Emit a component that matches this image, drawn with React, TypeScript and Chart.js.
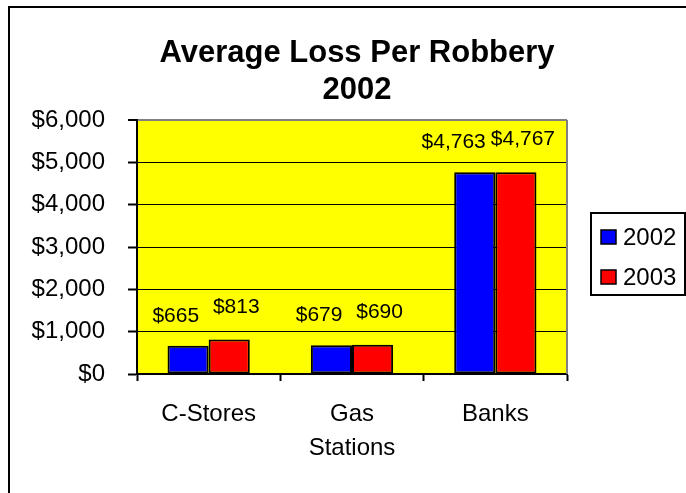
import React, { useEffect, useRef } from "react";
import { Chart, registerables } from "chart.js";

Chart.register(...registerables);

const categories: (string | string[])[] = ["C-Stores", ["Gas", "Stations"], "Banks"];
const seriesNames = ["2002", "2003"];
const values2002 = [665, 679, 4763];
const values2003 = [813, 690, 4767];
const seriesColors = ["#0000FF", "#FF0000"];
const titleLines = ["Average Loss Per Robbery", "2002"];
const yMin = 0;
const yMax = 6000;
const yStep = 1000;

const FONT = "'Liberation Sans', Arial, sans-serif";

const fmt = (v: number) => "$" + v.toLocaleString("en-US");

const decorPlugin = {
  id: "decor",
  beforeDraw(chart: any) {
    const { ctx, chartArea } = chart;
    ctx.save();
    ctx.fillStyle = "#FFFFFF";
    ctx.fillRect(0, 0, chart.width, chart.height);
    ctx.fillStyle = "#FFFF00";
    ctx.fillRect(chartArea.left, chartArea.top, chartArea.right - chartArea.left, chartArea.bottom - chartArea.top);
    ctx.restore();
  },
  afterDraw(chart: any) {
    const { ctx, chartArea } = chart;
    ctx.save();
    // outer chart frame
    ctx.strokeStyle = "#000000";
    ctx.lineWidth = 2;
    ctx.beginPath();
    ctx.moveTo(9, chart.height + 2);
    ctx.lineTo(9, 7);
    ctx.lineTo(chart.width + 2, 7);
    ctx.stroke();
    // plot area right border
    ctx.strokeStyle = "#808080";
    ctx.lineWidth = 2;
    ctx.beginPath();
    ctx.moveTo(chartArea.right, chartArea.top);
    ctx.lineTo(chartArea.right, chartArea.bottom);
    ctx.stroke();
    // title
    ctx.fillStyle = "#000000";
    ctx.font = "bold 31px " + FONT;
    ctx.textAlign = "center";
    ctx.textBaseline = "alphabetic";
    const cx = (chartArea.left + chartArea.right) / 2 + 5;
    titleLines.forEach((t, i) => ctx.fillText(t, cx, 62 + i * 37));
    // legend
    const lx = 591, ly = 213, lw = 94, lh = 82;
    ctx.strokeStyle = "#000000";
    ctx.lineWidth = 2;
    ctx.strokeRect(lx, ly, lw, lh);
    ctx.font = "24px " + FONT;
    ctx.textAlign = "left";
    ctx.textBaseline = "middle";
    chart.data.datasets.forEach((ds: any, i: number) => {
      const yy = ly + 24 + i * 40;
      ctx.fillStyle = ds.backgroundColor;
      ctx.fillRect(lx + 10, yy - 7, 15, 14);
      ctx.strokeStyle = "#000000";
      ctx.lineWidth = 1.5;
      ctx.strokeRect(lx + 10, yy - 7, 15, 14);
      ctx.fillStyle = "#000000";
      ctx.fillText(ds.label, lx + 32, yy + 1);
    });
    ctx.restore();
  },
  afterDatasetsDraw(chart: any) {
    const { ctx } = chart;
    ctx.save();
    ctx.fillStyle = "#000000";
    ctx.font = "21px " + FONT;
    ctx.textBaseline = "alphabetic";
    chart.data.datasets.forEach((ds: any, di: number) => {
      const meta = chart.getDatasetMeta(di);
      meta.data.forEach((bar: any, i: number) => {
        const txt = fmt(ds.data[i]);
        if (di === 0) {
          ctx.textAlign = "right";
          ctx.fillText(txt, bar.x + 11, bar.y - 24);
        } else {
          ctx.textAlign = "center";
          ctx.fillText(txt, bar.x + 7, bar.y - 27);
        }
      });
    });
    ctx.restore();
  },
};

export default function App() {
  const ref = useRef<HTMLCanvasElement | null>(null);
  useEffect(() => {
    if (!ref.current) return;
    Chart.defaults.font.family = FONT;
    const chart = new Chart(ref.current, {
      type: "bar",
      data: {
        labels: categories,
        datasets: [
          {
            label: seriesNames[0],
            data: values2002,
            backgroundColor: seriesColors[0],
            borderColor: "#000000",
            borderWidth: 2,
            borderSkipped: false,
          },
          {
            label: seriesNames[1],
            data: values2003,
            backgroundColor: seriesColors[1],
            borderColor: "#000000",
            borderWidth: 2,
            borderSkipped: false,
          },
        ],
      },
      options: {
        responsive: false,
        animation: false,
        layout: { padding: { top: 120, right: 119, left: 0, bottom: 0 } },
        plugins: {
          legend: { display: false },
          title: { display: false },
          tooltip: { enabled: false },
        },
        datasets: {
          bar: { categoryPercentage: 0.574, barPercentage: 1 },
        },
        scales: {
          x: {
            grid: {
              drawOnChartArea: false,
              drawTicks: true,
              tickLength: 7,
              tickColor: "#000000",
              tickWidth: 2,
              offset: true,
            },
            border: { color: "#000000", width: 2 },
            ticks: {
              color: "#000000",
              font: { size: 24, lineHeight: 1.4 },
              padding: 17,
              maxRotation: 0,
              autoSkip: false,
            },
            afterFit(scale: any) {
              scale.height = 119;
            },
          },
          y: {
            min: yMin,
            max: yMax,
            grid: {
              color: (c: any) => (c.tick && c.tick.value === yMax ? "#808080" : "#000000"),
              lineWidth: (c: any) => (c.tick && c.tick.value === yMax ? 2 : 1),
              tickLength: 9,
              tickColor: "#000000",
              tickWidth: 2,
            },
            border: { color: "#000000", width: 2 },
            ticks: {
              stepSize: yStep,
              color: "#000000",
              font: { size: 24 },
              padding: 23,
              callback: (v: any) => fmt(Number(v)),
            },
            afterFit(scale: any) {
              scale.width = 137;
            },
          },
        },
      },
      plugins: [decorPlugin],
    });
    return () => chart.destroy();
  }, []);
  return (
    <div style={{ position: "fixed", left: 0, top: 0, width: 686, height: 493, background: "#fff" }}>
      <canvas ref={ref} width={686} height={493} style={{ display: "block" }} />
    </div>
  );
}
